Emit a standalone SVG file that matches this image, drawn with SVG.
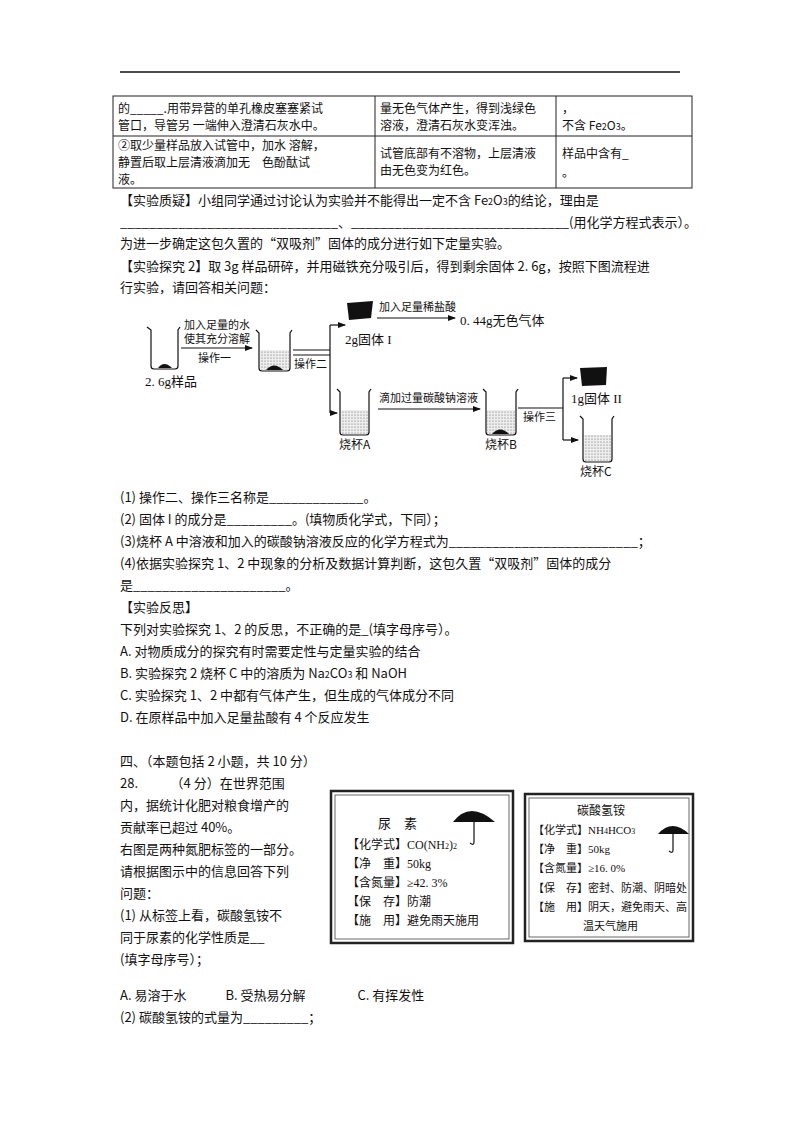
<svg xmlns="http://www.w3.org/2000/svg" width="800" height="1132" viewBox="0 0 800 1132">
<defs>
<style>
text{font-family:"Noto Sans CJK SC","Liberation Serif",serif;font-size:13px;fill:#111}
.s{font-family:"Liberation Serif","Noto Sans CJK SC",serif}
.f{font-size:12px}
.g{font-size:11px}
.c{font-size:12px}
.l{stroke:#111;stroke-width:1.2;fill:none}
.t{stroke:#222;stroke-width:1;fill:none}
</style>
<marker id="a" markerWidth="8" markerHeight="8" refX="7" refY="4" orient="auto" markerUnits="userSpaceOnUse"><path d="M0,1L8,4L0,7Z" fill="#111"/></marker>
<pattern id="dots" width="3" height="3" patternUnits="userSpaceOnUse"><rect width="3" height="3" fill="#eee"/><circle cx="1" cy="1" r="0.6" fill="#666"/></pattern>
</defs>
<rect width="800" height="1132" fill="#fff"/>
<line x1="120" y1="72" x2="680" y2="72" stroke="#111" stroke-width="1.3"/>
<g id="table">
<rect x="113" y="96" width="579" height="92" class="t"/>
<line x1="113" y1="136" x2="692" y2="136" class="t"/>
<line x1="375" y1="96" x2="375" y2="188" class="t"/>
<line x1="556" y1="96" x2="556" y2="188" class="t"/>
<text x="118" y="113" class="c">的_____.用带异营的单孔橡皮塞塞紧试</text>
<text x="118" y="130" class="c">管口，导管另 一端伸入澄清石灰水中。</text>
<text x="380" y="113" class="c">量无色气体产生，得到浅绿色</text>
<text x="380" y="130" class="c">溶液，澄清石灰水变浑浊。</text>
<text x="562" y="113" class="c">，</text>
<text x="562" y="130" class="c">不含 Fe<tspan font-size="9">2</tspan>O<tspan font-size="9">3</tspan>。</text>
<text x="118" y="150" class="c">②取少量样品放入试管中，加水 溶解，</text>
<text x="118" y="167" class="c">静置后取上层清液滴加无　色酚酞试</text>
<text x="118" y="184" class="c">液。</text>
<text x="380" y="158" class="c">试管底部有不溶物，上层清液</text>
<text x="380" y="175" class="c">由无色变为红色。</text>
<text x="562" y="158" class="c">样品中含有_</text>
<text x="562" y="177" class="c">。</text>
</g>
<text x="120" y="205">【实验质疑】小组同学通过讨论认为实验并不能得出一定不含 Fe<tspan font-size="9">2</tspan>O<tspan font-size="9">3</tspan>的结论，理由是</text>
<text x="120" y="227">______________________________、______________________________(用化学方程式表示）。</text>
<text x="120" y="248">为进一步确定这包久置的“双吸剂”固体的成分进行如下定量实验。</text>
<text x="120" y="271">【实验探究 2】取 3g 样品研碎，并用磁铁充分吸引后，得到剩余固体 2. 6g，按照下图流程进</text>
<text x="120" y="292">行实验，请回答相关问题：</text>
<g id="beaker1"><path d="M147,327 L151,330 L151,366 Q151,369 154,369 L175,369 Q178,369 178,366 L178,330 L180,327" class="l"/><path d="M158,368 Q164,360 172,368Z" fill="#111"/><text x="145" y="386" class="s" font-size="14">2. 6g样品</text></g>
<g id="beaker2"><path d="M256,330 L259,333 L259,368 Q259,371 262,371 L287,371 Q290,371 290,368 L290,333 L292,330" class="l"/><rect x="260" y="350" width="29" height="20" fill="url(#dots)"/><path d="M266,370 Q274,361 283,370Z" fill="#111"/></g>
<g id="solid1"><path d="M347,303 L373,301 L371,318 L349,320Z" fill="#111"/><text x="345" y="344" class="s" font-size="14">2g固体 I</text></g>
<text x="460" y="325" class="s" font-size="14">0. 44g无色气体</text>
<g id="beakerA"><path d="M337,389 L340,392 L340,432 Q340,435 343,435 L366,435 Q369,435 369,432 L369,392 L371,389" class="l"/><rect x="341" y="410" width="27" height="24" fill="url(#dots)"/><text x="339" y="449" class="f">烧杯A</text></g>
<g id="beakerB"><path d="M483,389 L486,392 L486,432 Q486,435 489,435 L513,435 Q516,435 516,432 L516,392 L518,389" class="l"/><rect x="487" y="410" width="28" height="24" fill="url(#dots)"/><path d="M492,434 Q500,425 509,434Z" fill="#111"/><text x="485" y="449" class="f">烧杯B</text></g>
<g id="solid2"><path d="M580,368 L607,367 L606,385 L582,386Z" fill="#111"/><text x="571" y="403" class="s" font-size="14">1g固体 II</text></g>
<g id="beakerC"><path d="M580,416 L583,419 L583,459 Q583,462 586,462 L609,462 Q612,462 612,459 L612,419 L614,416" class="l"/><rect x="584" y="435" width="27" height="26" fill="url(#dots)"/><text x="580" y="476" class="f">烧杯C</text></g>
<g id="connectors" class="l">
<line x1="181" y1="348" x2="252" y2="348" marker-end="url(#a)"/>
<line x1="293" y1="350" x2="330" y2="350"/>
<line x1="293" y1="355" x2="330" y2="355"/>
<line x1="330" y1="325" x2="330" y2="413"/>
<line x1="330" y1="325" x2="345" y2="325" marker-end="url(#a)"/>
<line x1="330" y1="413" x2="337" y2="413" marker-end="url(#a)"/>
<line x1="377" y1="318" x2="455" y2="318" marker-end="url(#a)"/>
<line x1="378" y1="409" x2="480" y2="409" marker-end="url(#a)"/>
<line x1="518" y1="408" x2="563" y2="408"/>
<line x1="563" y1="378" x2="563" y2="440"/>
<line x1="563" y1="378" x2="577" y2="378" marker-end="url(#a)"/>
<line x1="563" y1="440" x2="578" y2="440" marker-end="url(#a)"/>
</g>
<text x="184" y="329" class="g">加入足量的水</text>
<text x="184" y="343" class="g">使其充分溶解</text>
<text x="198" y="362" class="g">操作一</text>
<text x="294" y="368" class="g">操作二</text>
<text x="379" y="311" class="g">加入足量稀盐酸</text>
<text x="379" y="402" class="g">滴加过量碳酸钠溶液</text>
<text x="523" y="421" class="g">操作三</text>
<text x="120" y="502">(1) 操作二、操作三名称是_____________。</text>
<text x="120" y="524">(2) 固体 I 的成分是_________。(填物质化学式，下同）；</text>
<text x="120" y="546">(3)烧杯 A 中溶液和加入的碳酸钠溶液反应的化学方程式为__________________________；</text>
<text x="120" y="568">(4)依据实验探究 1、2 中现象的分析及数据计算判断，这包久置“双吸剂”固体的成分</text>
<text x="120" y="590">是_____________________。</text>
<text x="120" y="612">【实验反思】</text>
<text x="120" y="634">下列对实验探究 1、2 的反思，不正确的是_(填字母序号）。</text>
<text x="120" y="656">A.  对物质成分的探究有时需要定性与定量实验的结合</text>
<text x="120" y="678">B.  实验探究 2 烧杯 C 中的溶质为 Na<tspan font-size="9">2</tspan>CO<tspan font-size="9">3</tspan> 和 NaOH</text>
<text x="120" y="700">C.  实验探究 1、2 中都有气体产生，但生成的气体成分不同</text>
<text x="120" y="722">D.  在原样品中加入足量盐酸有 4 个反应发生</text>
<text x="120" y="766">四、（本题包括 2 小题，共 10 分）</text>
<text x="120" y="788">28.　　　（4 分）在世界范围</text>
<text x="120" y="810">内，据统计化肥对粮食增产的</text>
<text x="120" y="832">贡献率已超过 40%。</text>
<text x="120" y="854">右图是两种氮肥标签的一部分。</text>
<text x="120" y="876">请根据图示中的信息回答下列</text>
<text x="120" y="898">问题：</text>
<text x="120" y="920">(1) 从标签上看，碳酸氢铵不</text>
<text x="120" y="942">同于尿素的化学性质是__</text>
<text x="120" y="964">(填字母序号）；</text>
<text x="120" y="1000">A. 易溶于水　　　B. 受热易分解　　　　C. 有挥发性</text>
<text x="120" y="1022">(2) 碳酸氢铵的式量为_________；</text>
<g id="label1">
<rect x="331" y="791" width="182" height="152" fill="none" stroke="#222" stroke-width="2.5"/>
<rect x="335" y="795" width="174" height="144" fill="none" stroke="#444" stroke-width="0.8"/>
<text x="378" y="828" font-size="14">尿　素</text>
<path d="M453,822 Q470,800 495,822 Z" fill="#111"/><path d="M474,822 L474,842 Q474,846 470,843" class="l"/>
<text x="347" y="849" class="f">【化学式】<tspan class="s">CO(NH<tspan font-size="8">2</tspan>)<tspan font-size="8">2</tspan></tspan></text>
<text x="347" y="868" class="f">【净　重】<tspan class="s">50kg</tspan></text>
<text x="347" y="887" class="f">【含氮量】<tspan class="s">≥42. 3%</tspan></text>
<text x="347" y="906" class="f">【保　存】防潮</text>
<text x="347" y="925" class="f">【施　用】避免雨天施用</text>
</g>
<g id="label2">
<rect x="525" y="794" width="168" height="147" fill="none" stroke="#222" stroke-width="2.5"/>
<rect x="529" y="798" width="160" height="139" fill="none" stroke="#444" stroke-width="0.8"/>
<text x="577" y="815" class="f">碳酸氢铵</text>
<path d="M658,834 Q672,818 689,834 Z" fill="#111"/><path d="M673,834 L673,850 Q673,854 669,851" class="l"/>
<text x="533" y="834" class="g">【化学式】<tspan class="s">NH<tspan font-size="8">4</tspan>HCO<tspan font-size="8">3</tspan></tspan></text>
<text x="533" y="853" class="g">【净　重】<tspan class="s">50kg</tspan></text>
<text x="533" y="872" class="g">【含氮量】<tspan class="s">≥16. 0%</tspan></text>
<text x="533" y="892" class="g">【保　存】密封、防潮、阴暗处</text>
<text x="533" y="911" class="g">【施　用】阴天，避免雨天、高</text>
<text x="583" y="930" class="g">温天气施用</text>
</g>
</svg>
